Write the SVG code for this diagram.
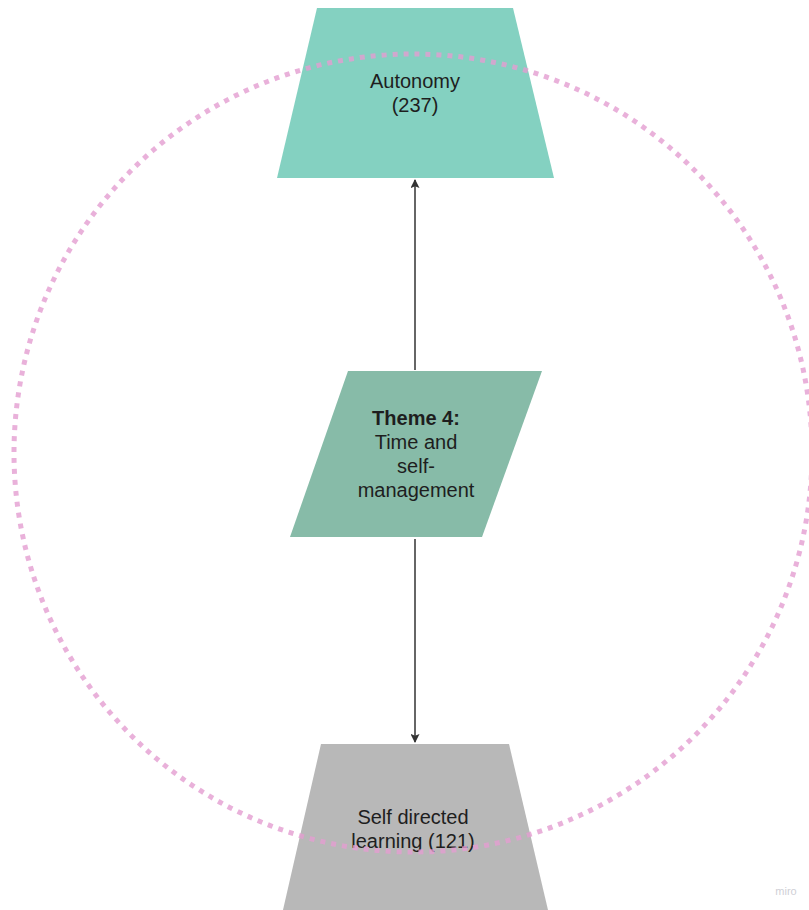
<svg xmlns="http://www.w3.org/2000/svg" width="809" height="910" viewBox="0 0 809 910">
  <style>
    .label { font-family: "Liberation Sans", Arial, sans-serif; font-size: 20px; fill: #1e1e1e; text-anchor: middle; }
    .bold { font-weight: bold; }
    .conn { stroke: #333333; stroke-width: 1.5; fill: none; }
    .ring { fill: none; stroke: #e39ed1; stroke-opacity: 0.8; stroke-width: 5; stroke-dasharray: 5 6; }
  </style>
  <defs>
    <marker id="arrow" viewBox="0 0 10 10" refX="9" refY="5" markerWidth="7" markerHeight="6" orient="auto-start-reverse" markerUnits="strokeWidth">
      <path d="M0,0 L10,5 L0,10 L2,5 Z" fill="#333333"/>
    </marker>
  </defs>
  <rect width="809" height="910" fill="#ffffff"/>

  <g id="node-autonomy">
    <polygon points="317,8 513,8 554,178 277,178" fill="#84d1c1"/>
    <text class="label" x="415" y="88">Autonomy</text>
    <text class="label" x="415" y="112">(237)</text>
  </g>

  <g id="node-theme4">
    <polygon points="348,371 542,371 482,537 290,537" fill="#87bba8"/>
    <text class="label bold" x="416" y="425">Theme 4:</text>
    <text class="label" x="416" y="449">Time and</text>
    <text class="label" x="416" y="473">self-</text>
    <text class="label" x="416" y="497">management</text>
  </g>

  <g id="node-self-directed">
    <polygon points="321,744 509,744 548,910 283,910" fill="#b8b8b8"/>
    <text class="label" x="413" y="824">Self directed</text>
    <text class="label" x="413" y="848">learning (121)</text>
  </g>

  <g id="connectors">
    <line class="conn" x1="415" y1="370" x2="415" y2="180" marker-end="url(#arrow)"/>
    <line class="conn" x1="415" y1="539" x2="415" y2="742" marker-end="url(#arrow)"/>
  </g>

  <!-- dotted grouping ring around the theme -->
  <circle class="ring" cx="413" cy="453" r="399"/>

  <text x="786" y="895" font-family="'Liberation Sans', Arial, sans-serif" font-size="11" fill="#cfcfd6" text-anchor="middle">miro</text>
</svg>
